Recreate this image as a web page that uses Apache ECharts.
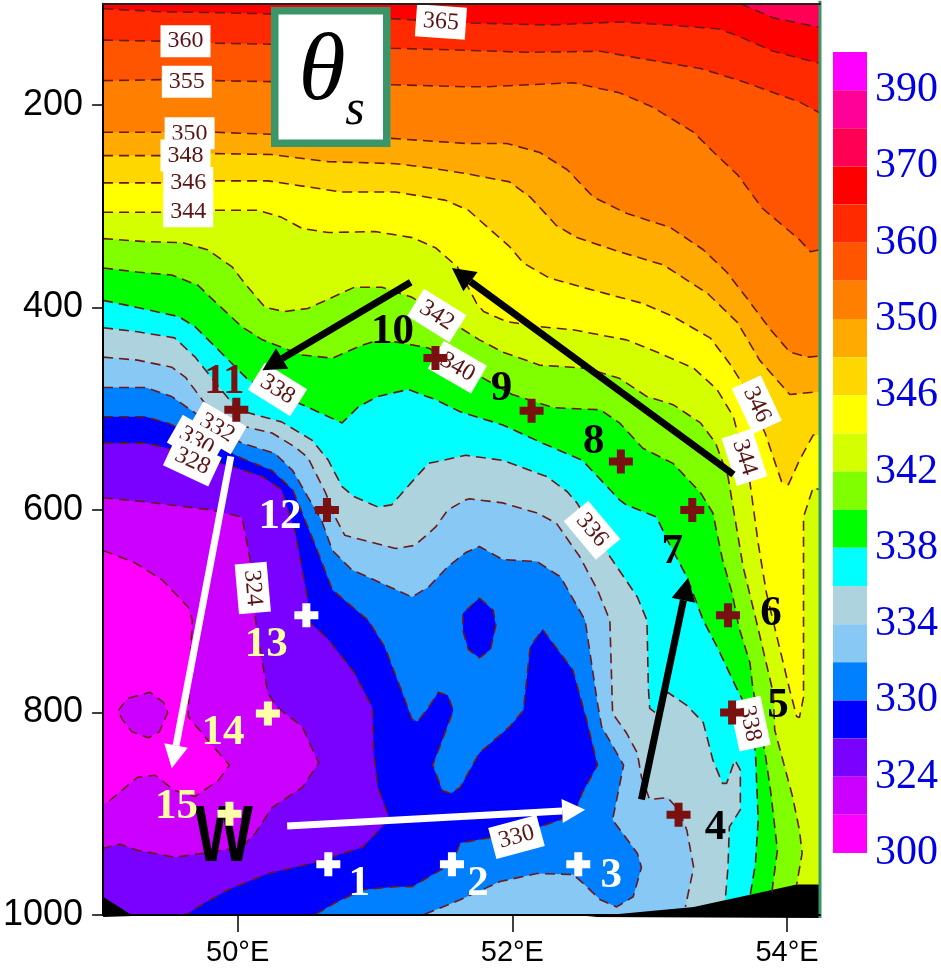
<!DOCTYPE html>
<html><head><meta charset="utf-8">
<style>html,body{margin:0;padding:0;background:#fff}#c{width:941px;height:971px}</style>
<script src="https://cdn.jsdelivr.net/npm/echarts@6/dist/echarts.min.js"></script>
</head><body><div id="c"></div>
<script>
// ---- axes
const lonMin=49.02, lonMax=54.24, pTop=100, pBottom=1000;
const lonTicks=[50,52,54];
const pressureTicks=[200,400,600,800,1000];
// ---- colour scale (top to bottom)
const scaleColors=['#FF00FF','#FF0099','#FF0055','#FF0000','#FF2A00','#FF5500','#FF8000','#FFAA00','#FFD700','#FFFF00','#D4FF00','#80FF00','#00FF00','#00FFFF','#ADD3DF','#87C8F5','#0080FF','#0000FF','#7A00FF','#CC00FF','#FF00FF'];
const scaleLabels=[390,370,360,350,346,342,338,334,330,324,300];
// ---- contours [lon, hPa]
const c370=[[53.66,100],[53.90,114],[54.22,123],[54.24,123]];
const c365=[[49.02,105],[49.45,108],[49.91,109],[50.22,110],[51.15,115],[51.67,119],[51.98,120],[52.27,121],[52.78,118],[53.13,121],[53.51,125],[53.68,134],[53.90,147],[54.24,159]];
const c360=[[49.02,136],[49.45,137],[49.84,139],[50.24,140],[51.12,144],[51.66,146],[52.11,148],[52.64,147],[52.93,154],[53.37,164],[53.68,177],[54.09,197],[54.24,208]];
const c355=[[49.02,176],[49.45,175],[49.84,176],[50.24,177],[51.12,180],[51.66,182],[51.82,182],[52.44,178],[52.78,188],[53.02,202],[53.32,227],[53.46,246],[53.64,269],[53.82,302],[54.09,333],[54.17,345],[54.24,343]];
const c350=[[49.02,227],[49.47,227],[49.84,227],[50.24,229],[51.12,233],[51.66,238],[51.96,238],[52.20,247],[52.40,264],[52.59,291],[52.83,307],[53.15,321],[53.39,343],[53.56,365],[53.72,393],[53.88,422],[54.02,444],[54.15,449],[54.24,448]];
const c348=[[49.02,250],[49.45,250],[49.81,248],[50.25,249],[50.66,256],[51.15,258],[51.39,262],[51.67,268],[51.98,276],[52.13,291],[52.32,319],[52.47,331],[52.78,345],[53.10,358],[53.42,386],[53.64,415],[53.80,452],[54.02,486],[54.24,483]];
const c346=[[49.02,277],[49.45,277],[49.84,275],[50.22,275],[50.76,286],[51.15,286],[51.51,294],[51.68,304],[51.98,340],[52.08,356],[52.27,371],[52.59,383],[52.95,396],[53.17,409],[53.44,430],[53.58,455],[53.66,472],[53.84,524],[53.96,572],[54.01,575],[54.09,551],[54.19,526],[54.24,526]];
const c344=[[49.02,306],[49.45,306],[49.84,304],[50.15,304],[50.32,311],[50.47,322],[50.66,326],[51.00,325],[51.27,331],[51.44,341],[51.60,360],[51.74,396],[51.79,404],[51.96,414],[52.20,419],[52.44,422],[52.83,432],[53.07,445],[53.32,460],[53.49,481],[53.61,508],[53.73,573],[53.79,633],[53.85,682],[53.91,716],[54.02,778],[54.07,804],[54.09,805],[54.12,785],[54.12,716],[54.12,607],[54.19,578],[54.24,580]];
const c342=[[49.02,332],[49.33,335],[49.60,336],[49.78,343],[49.96,360],[50.05,376],[50.20,400],[50.34,404],[50.51,401],[50.69,390],[50.85,380],[51.05,380],[51.27,390],[51.62,420],[51.76,432],[51.93,444],[52.20,457],[52.54,460],[52.78,470],[52.98,488],[53.17,496],[53.37,514],[53.48,534],[53.57,567],[53.68,656],[53.77,706],[53.90,781],[53.91,817],[54.04,883],[54.09,916],[54.11,939],[54.07,970]];
const c340=[[49.02,361],[49.27,365],[49.52,368],[49.71,378],[49.84,395],[50.03,419],[50.18,432],[50.47,447],[50.69,450],[50.91,437],[50.98,434],[51.15,434],[51.39,440],[51.79,470],[52.00,486],[52.30,499],[52.64,501],[52.78,514],[52.95,539],[53.17,554],[53.37,583],[53.46,603],[53.53,649],[53.60,682],[53.65,716],[53.73,751],[53.75,775],[53.80,812],[53.84,840],[53.88,877],[53.93,936],[53.89,977]];
const c338=[[49.02,393],[49.27,400],[49.57,409],[49.69,419],[49.86,442],[50.08,472],[50.47,496],[50.76,514],[50.88,498],[51.02,488],[51.24,481],[51.44,491],[51.62,503],[51.93,516],[52.22,534],[52.51,551],[52.78,590],[52.83,595],[53.05,607],[53.13,630],[53.27,666],[53.39,709],[53.49,735],[53.64,778],[53.73,802],[53.77,840],[53.79,906],[53.77,949],[53.73,982]];
const c336=[[49.02,420],[49.27,424],[49.54,430],[49.69,449],[49.86,478],[50.00,501],[50.13,506],[50.32,513],[50.54,531],[50.66,551],[50.76,577],[50.85,587],[51.02,597],[51.12,595],[51.27,572],[51.39,554],[51.66,546],[51.93,551],[52.25,567],[52.40,582],[52.47,593],[52.71,646],[52.91,686],[52.98,709],[52.99,775],[53.00,796],[53.04,800],[53.13,780],[53.27,793],[53.39,810],[53.46,847],[53.53,870],[53.56,870],[53.62,847],[53.66,857],[53.66,896],[53.58,913],[53.57,953],[53.55,985]];
const c334=[[49.02,449],[49.27,452],[49.52,459],[49.62,469],[49.78,498],[50.00,516],[50.25,524],[50.42,538],[50.51,548],[50.64,583],[50.71,607],[50.78,625],[51.15,638],[51.29,635],[51.44,617],[51.53,600],[51.66,590],[51.69,589],[51.93,593],[52.18,603],[52.32,613],[52.49,646],[52.62,679],[52.71,709],[52.73,801],[52.83,820],[52.91,840],[52.94,864],[53.00,886],[53.13,884],[53.21,896],[53.27,916],[53.32,953],[53.26,992]];
const c332=[[49.02,479],[49.33,479],[49.52,488],[49.76,511],[50.03,534],[50.27,544],[50.40,561],[50.51,587],[50.61,610],[50.69,640],[50.83,659],[51.27,686],[51.39,676],[51.53,656],[51.66,642],[51.76,636],[51.93,649],[52.18,651],[52.35,666],[52.53,709],[52.62,791],[52.65,814],[52.81,852],[52.73,906],[52.91,939],[52.94,953],[52.88,982],[52.76,992],[52.64,985],[52.51,968],[52.44,960],[52.18,959],[51.91,967],[51.62,985],[51.35,1000]];
const c330=[[49.02,508],[49.33,508],[49.49,514],[49.76,531],[50.03,549],[50.25,561],[50.40,580],[50.56,633],[50.69,679],[50.95,709],[51.07,735],[51.20,781],[51.27,807],[51.31,809],[51.39,795],[51.46,780],[51.53,783],[51.57,798],[51.49,827],[51.42,852],[51.49,877],[51.55,880],[51.62,874],[51.76,840],[51.98,814],[52.08,798],[52.13,735],[52.22,718],[52.44,758],[52.54,807],[52.62,852],[52.51,879],[52.47,893],[52.35,906],[52.20,913],[51.86,923],[51.62,929],[51.56,949],[51.27,972],[51.15,972],[50.91,975],[50.71,988],[50.56,1000]];
const c328=[[49.02,534],[49.33,534],[49.49,539],[49.98,558],[50.18,567],[50.32,580],[50.42,623],[50.51,689],[50.51,709],[50.66,728],[50.85,761],[50.98,795],[50.99,840],[51.02,874],[51.10,903],[51.05,913],[50.91,933],[50.54,949],[50.22,959],[49.93,975],[49.76,988],[49.62,1000]];
const c324=[[49.02,588],[49.33,592],[49.81,600],[50.03,607],[50.05,620],[50.09,649],[50.13,709],[50.18,751],[50.22,781],[50.29,795],[50.47,814],[50.59,850],[50.47,874],[50.25,894],[50.13,919],[50.03,933],[49.80,938],[49.54,943],[49.27,936],[49.14,930],[49.02,934]];
const c320=[[49.02,640],[49.25,652],[49.45,669],[49.64,696],[49.67,709],[49.65,758],[49.64,804],[49.78,827],[49.94,852],[49.86,867],[49.69,883],[49.54,877],[49.40,862],[49.27,864],[49.06,888],[49.02,891]];
const isle330=[[51.76,687],[51.86,699],[51.88,714],[51.84,738],[51.76,746],[51.68,738],[51.64,719],[51.64,702],[51.76,687]];
const isle324=[[49.13,798],[49.20,786],[49.36,780],[49.46,790],[49.49,800],[49.43,819],[49.35,825],[49.23,819],[49.16,807],[49.13,798]];
const groundEast=[[52.54,1002],[53.32,992],[53.73,980],[54.07,970],[54.24,970],[54.24,1003]];
const groundWest=[[49.02,982],[49.24,1001],[49.02,1002]];
// ---- stations: lon, hPa, number
const stationLon=[50.66,51.56,52.48,53.21,53.60,53.57,53.31,52.79,52.14,51.44,49.99,50.65,50.50,50.22,49.94];
const stationP=[950,950,950,901,800,704,600,552,502,450,501,600,704,801,900];
const stationNames=['1','2','3','4','5','6','7','8','9','10','11','12','13','14','15'];
// ---- contour labels: text, lon, hPa
const contourLabelText=['360','355','350','348','346','344','365','342','340','338','332','330','328','324','346','344','336','338','330'];
const contourLabelLon=[49.62,49.63,49.65,49.62,49.64,49.64,51.48,51.45,51.60,50.29,49.85,49.70,49.67,50.11,53.78,53.69,52.58,53.73,52.03];
const contourLabelP=[137,177,228,250,277,305,118,408,459,481,519,532,552,677,496,548,620,811,923];
// ---- arrows from→to
const blackArrows=[[51.26,375,50.18,462],[53.61,565,51.56,361],[52.94,886,53.28,667]];
const whiteArrows=[[49.95,547,49.52,855],[50.36,912,52.53,896]];

// ---- styles
const contourLabelRot=[0,0,0,0,0,0,-4,-32,-30,-32,-30,-30,-25,-85,-65,-72,-50,-78,15];
const crossCol=['#fff','#fff','#fff','#7b1010','#7b1010','#7b1010','#7b1010','#7b1010','#7b1010','#7b1010','#7b1010','#7b1010','#fff','#ffffa8','#ffffa8'];
const numCol=['#fff','#fff','#fff','#000','#000','#000','#000','#000','#000','#000','#7b1010','#fff','#ffffa0','#ffffa0','#ffffa0'];
const numOff=[[31,20],[26,20],[33,12],[37,13],[46,-7],[43,-1],[-20,42],[-27,-19],[-30,-22],[-43,-26],[-12,-28],[-47,7],[-40,30],[-45,19],[-53,-7]];
const crossPath='path://M8,0H16V8H24V16H16V24H8V16H0V8H8Z';
const lineColor='#6b1a1a', frameGreen='#3a9668';

const closeBottom=l=>l.concat([[l[l.length-1][0],pBottom],[lonMin,pBottom],[lonMin,l[0][1]]]);
const bands=[
 [closeBottom(c370),scaleColors[3]],[closeBottom(c365),scaleColors[4]],[closeBottom(c360),scaleColors[5]],
 [closeBottom(c355),scaleColors[6]],[closeBottom(c350),scaleColors[7]],[closeBottom(c348),scaleColors[8]],
 [closeBottom(c346),scaleColors[9]],[closeBottom(c344),scaleColors[10]],[closeBottom(c342),scaleColors[11]],
 [closeBottom(c340),scaleColors[12]],[closeBottom(c338),scaleColors[13]],[closeBottom(c336),scaleColors[14]],
 [closeBottom(c334),scaleColors[15]],[closeBottom(c332),scaleColors[16]],[closeBottom(c330),scaleColors[17]],
 [isle330,scaleColors[17]],[closeBottom(c328),scaleColors[18]],[c324,scaleColors[19]],[c320,scaleColors[20]],
 [isle324,scaleColors[19]],[groundEast,'#000'],[groundWest,'#000']
];
const contours=[c370,c365,c360,c355,c350,c348,c346,c344,c342,c340,c338,c336,c334,c332,c330,isle330,c328,c324,c320,isle324];

const chart=echarts.init(document.getElementById('c'),null,{renderer:'canvas'});
const serif='"Liberation Serif"', sans='"Liberation Sans"';
const hidden={color:'rgba(0,0,0,0)',opacity:1};
const series=[];
series.push({type:'custom',name:'fills',coordinateSystem:'cartesian2d',xAxisIndex:0,yAxisIndex:0,z:1,silent:true,clip:false,
 data:bands.map((b,i)=>[b[0][0][0],b[0][0][1],i]),
 renderItem:(p,api)=>{const b=bands[api.value(2)];return {type:'polygon',shape:{points:b[0].map(q=>api.coord(q))},style:{fill:b[1]}};}
});
contours.forEach((c,i)=>series.push({type:'line',name:'c'+i,xAxisIndex:0,yAxisIndex:0,z:2,data:c,showSymbol:false,silent:true,
 lineStyle:{color:lineColor,width:1.6,type:[10,6]},clip:false}));
series.push({type:'line',name:'frame',xAxisIndex:0,yAxisIndex:0,z:4,clip:false,showSymbol:false,silent:true,
 data:[[lonMax,97],[lonMax,1003]],lineStyle:{color:frameGreen,width:3}});
series.push({type:'scatter',name:'contourLabels',xAxisIndex:0,yAxisIndex:0,z:5,symbolSize:1,silent:true,itemStyle:hidden,
 data:contourLabelText.map((t,i)=>({value:[contourLabelLon[i],contourLabelP[i]],label:{show:true,position:'inside',formatter:t,rotate:contourLabelRot[i],
   fontFamily:serif,fontSize:24,color:'#5a1414',backgroundColor:'#fff',padding:[5,7,3,7],align:'center',verticalAlign:'middle'}}))});
[[blackArrows,'#000'],[whiteArrows,'#fff']].forEach(([a,col],k)=>series.push({type:'custom',name:'arrows'+k,coordinateSystem:'cartesian2d',xAxisIndex:0,yAxisIndex:0,z:6,silent:true,clip:false,
 data:a,
 renderItem:(p,api)=>{
   const s=api.coord([api.value(0),api.value(1)]),e=api.coord([api.value(2),api.value(3)]);
   const dx=e[0]-s[0],dy=e[1]-s[1],n=Math.hypot(dx,dy),ux=dx/n,uy=dy/n,L=23,W=12;
   const bx=e[0]-ux*L,by=e[1]-uy*L;
   return {type:'group',children:[
     {type:'line',shape:{x1:s[0],y1:s[1],x2:bx,y2:by},style:{stroke:col,lineWidth:7}},
     {type:'polygon',shape:{points:[e,[bx-uy*W,by+ux*W],[bx+uy*W,by-ux*W]]},style:{fill:col}}
   ]};
 }}));
series.push({type:'custom',name:'W',coordinateSystem:'cartesian2d',xAxisIndex:0,yAxisIndex:0,z:6,silent:true,clip:false,
 data:[[49.90,925]],
 renderItem:(p,api)=>{const c=api.coord([api.value(0),api.value(1)]);
   return {type:'text',x:c[0],y:c[1],scaleX:0.78,style:{text:'W',align:'center',verticalAlign:'middle',fill:'#000',font:'bold 79px "Liberation Sans"'}};}
});
series.push({type:'scatter',name:'stations',xAxisIndex:0,yAxisIndex:0,z:7,symbol:crossPath,symbolSize:24,silent:true,
 data:stationLon.map((l,i)=>({value:[l,stationP[i]],itemStyle:{color:crossCol[i],opacity:1}}))});
series.push({type:'scatter',name:'numbers',xAxisIndex:0,yAxisIndex:0,z:8,symbolSize:1,silent:true,itemStyle:hidden,
 data:stationLon.map((l,i)=>({value:[l,stationP[i]],label:{show:true,position:'inside',formatter:stationNames[i],offset:numOff[i],
   fontFamily:serif,fontWeight:'bold',fontSize:43,color:numCol[i],align:'center',verticalAlign:'middle'}}))});
series.push({type:'custom',name:'colorbar',coordinateSystem:'cartesian2d',xAxisIndex:2,yAxisIndex:1,silent:true,
 data:scaleColors.map((c,i)=>[0,i,1,i+1]),
 renderItem:(p,api)=>{const a=api.coord([0,api.value(1)]),b=api.coord([1,api.value(3)]);
   return {type:'rect',shape:{x:a[0],y:a[1],width:b[0]-a[0],height:b[1]-a[1]},style:{fill:scaleColors[api.value(1)]}};}
});

chart.setOption({
 animation:false,backgroundColor:'#fff',
 grid:[{left:103,top:3.7,width:717,height:911.3,show:true,backgroundColor:scaleColors[2],borderWidth:0},
       {left:833,top:52,width:34,height:801}],
 xAxis:[
  {gridIndex:0,type:'value',position:'bottom',min:lonMin,max:lonMax,z:10,splitLine:{show:false},
   axisLine:{onZero:false,lineStyle:{color:'#000',width:2}},
   axisTick:{length:17,lineStyle:{color:'#000',width:1.5},customValues:lonTicks},
   axisLabel:{customValues:lonTicks,formatter:v=>v+'°E',margin:23,fontFamily:sans,fontSize:29,color:'#000',hideOverlap:false}},
  {gridIndex:0,type:'value',position:'top',min:lonMin,max:lonMax,z:10,splitLine:{show:false},
   axisLine:{onZero:false,lineStyle:{color:'#222',width:2}},axisTick:{show:false},axisLabel:{show:false}},
  {gridIndex:1,type:'value',min:0,max:1,show:false}
 ],
 yAxis:[
  {gridIndex:0,type:'value',inverse:true,position:'left',min:pTop,max:pBottom,z:10,splitLine:{show:false},
   axisLine:{onZero:false,lineStyle:{color:'#000',width:2}},
   axisTick:{length:11,lineStyle:{color:'#000',width:1.5},customValues:pressureTicks},
   axisLabel:{customValues:pressureTicks,formatter:v=>String(v),margin:20,fontFamily:sans,fontSize:36,color:'#000'}},
  {gridIndex:1,type:'value',inverse:true,position:'right',min:0,max:21,splitLine:{show:false},
   axisLine:{show:false},axisTick:{show:false},
   axisLabel:{customValues:scaleLabels.map((v,i)=>2*i+1),formatter:v=>String(scaleLabels[(v-1)/2]),margin:8,fontFamily:serif,fontSize:42,color:'#0000e0'}}
 ],
 series,
 graphic:[
  {type:'rect',z:100,shape:{x:274.75,y:10.75,width:112,height:132.5},style:{fill:'#fff',stroke:frameGreen,lineWidth:7.5}},
  {type:'text',z:101,style:{x:322,y:74,text:'θ',align:'center',verticalAlign:'middle',fill:'#000',font:'italic 96px "Liberation Serif"'}},
  {type:'text',z:101,style:{x:355,y:111,text:'s',align:'center',verticalAlign:'middle',fill:'#000',font:'italic 50px "Liberation Serif"'}}
 ]
});
</script></body></html>
